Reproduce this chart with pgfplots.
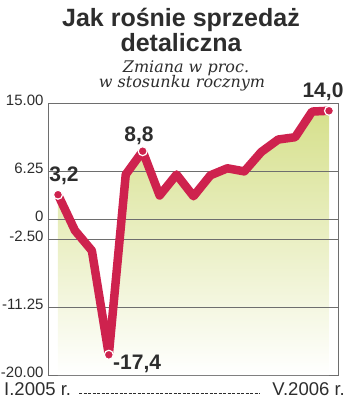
\documentclass[border=0pt]{standalone}
\usepackage{pgfplots}
\pgfplotsset{compat=1.18}
\usepackage{fontspec}
\setmainfont{Liberation Sans}
\newfontfamily\serifit{DejaVu Serif}
\definecolor{crim}{RGB}{206,34,78}
\definecolor{fillg}{RGB}{214,224,140}
\definecolor{txt}{RGB}{45,45,45}
\definecolor{gridc}{RGB}{110,110,110}
\begin{document}
\begin{tikzpicture}
\useasboundingbox (0pt,0pt) rectangle (350pt,407pt);
\begin{axis}[
  at={(48pt,32pt)}, anchor=south west,
  width=290pt, height=272pt, scale only axis,
  xmin=-0.59, xmax=16.53, ymin=-20, ymax=15,
  xtick=\empty,
  ytick={-20,-11.25,-2.5,0,6.25,15},
  yticklabels={-20.00,-11.25,-2.50,0,6.25,15.00},
  yticklabel style={font=\fontsize{15}{15}\selectfont, text=txt, yshift=3pt, xshift=-1pt},
  major tick length=0pt,
  axis line style={gridc, line width=0.8pt},
  clip=false,
]
\addplot[draw=none, top color=fillg, bottom color=white] coordinates {
 (0,-20) (0,3.2) (1,-1.4) (2,-4.0) (3,-17.4) (4,5.8) (5,8.8) (6,3.1) (7,5.8) (8,3.0)
 (9,5.7) (10,6.6) (11,6.2) (12,8.7) (13,10.3) (14,10.6) (15,13.9) (16,14.0) (16,-20)
};
\addplot[gridc, line width=0.8pt] coordinates {(-0.59,6.25) (16.53,6.25)};
\addplot[gridc, line width=0.8pt] coordinates {(-0.59,0) (16.53,0)};
\addplot[gridc, line width=0.8pt] coordinates {(-0.59,-2.5) (16.53,-2.5)};
\addplot[gridc, line width=0.8pt] coordinates {(-0.59,-11.25) (16.53,-11.25)};
\addplot[crim, line width=8.5pt, line join=round, line cap=round] coordinates {
 (0,3.2) (1,-1.4) (2,-4.0) (3,-17.4) (4,5.8) (5,8.8) (6,3.1) (7,5.8) (8,3.0)
 (9,5.7) (10,6.6) (11,6.2) (12,8.7) (13,10.3) (14,10.6) (15,13.9) (16,14.0)
};
\addplot[only marks, mark=*, mark size=4.5pt, mark options={fill=crim, draw=white, line width=1.2pt}] coordinates {
 (0,3.2) (3,-17.4) (5,8.8) (16,14.0)
};
\end{axis}
% title
\node[anchor=base, text=txt, inner sep=0pt, font=\fontsize{25}{25}\selectfont\bfseries] at (181pt,380pt) {Jak rośnie sprzedaż};
\node[anchor=base, text=txt, inner sep=0pt, font=\fontsize{25}{25}\selectfont\bfseries] at (181pt,355pt) {detaliczna};
\node[anchor=base, text=txt, inner sep=0pt, font=\fontsize{16}{16}\selectfont\serifit\itshape] at (186pt,334pt) {Zmiana w proc.};
\node[anchor=base, text=txt, inner sep=0pt, font=\fontsize{16}{16}\selectfont\serifit\itshape] at (182pt,319pt) {w stosunku rocznym};
% value labels
\node[anchor=base, text=txt, font=\fontsize{21}{21}\selectfont\bfseries] at (64pt,225pt) {3,2};
\node[anchor=base, text=txt, font=\fontsize{21}{21}\selectfont\bfseries] at (139pt,265pt) {8,8};
\node[anchor=base, text=txt, font=\fontsize{21}{21}\selectfont\bfseries] at (323pt,309pt) {14,0};
\node[anchor=base west, text=txt, font=\fontsize{21}{21}\selectfont\bfseries, inner sep=0pt] at (113pt,37pt) {-17,4};
% x labels
\node[anchor=base west, text=txt, font=\fontsize{18.5}{18.5}\selectfont, inner sep=0pt] at (4pt,11pt) {I.2005 r.};
\node[anchor=base east, text=txt, font=\fontsize{18.5}{18.5}\selectfont, inner sep=0pt] at (345pt,11pt) {V.2006 r.};
\draw[txt, line width=0.8pt, dash pattern=on 3pt off 1.5pt] (79pt,14pt) -- (260pt,14pt);
\end{tikzpicture}
\end{document}
